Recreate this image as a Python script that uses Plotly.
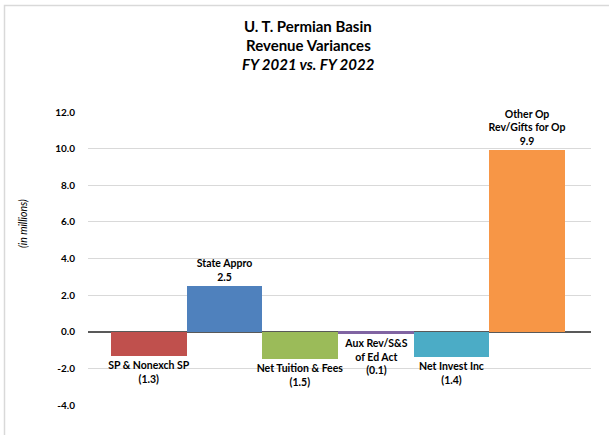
import plotly.graph_objects as go

# Data
categories = ["SP & Nonexch SP", "State Appro", "Net Tuition & Fees",
              "Aux Rev/S&S<br>of Ed Act", "Net Invest Inc", "Other Op<br>Rev/Gifts for Op"]
values = [-1.3, 2.5, -1.5, -0.1, -1.4, 9.9]
colors = ["#C0504D", "#4F81BD", "#9BBB59", "#8064A2", "#4BACC6", "#F79646"]
tick_vals = [-4, -2, 0, 2, 4, 6, 8, 10, 12]
tick_text = ["-4.0", "-2.0", "0.0", "2.0", "4.0", "6.0", "8.0", "10.0", "12.0"]
title_lines = ["<b>U. T. Permian Basin</b>", "<b>Revenue Variances</b>", "<b><i>FY 2021 vs. FY 2022</i></b>"]

FONT = "Lato"
W, H = 609, 435
L, R, T, B = 88, 18, 112, 30
pw, ph = W - L - R, H - T - B

def fmt(v):
    return f"({abs(v):.1f})" if v < 0 else f"{v:.1f}"

labels = [f"{c}<br>{fmt(v)}" for c, v in zip(categories, values)]

fig = go.Figure()
fig.add_trace(go.Bar(
    x=list(range(len(categories))), y=values,
    marker=dict(color=colors, line=dict(width=0)),
    text=labels, textposition="outside", constraintext="none",
    textfont=dict(family=FONT, size=10.5, color="#000000", weight="bold"),
    cliponaxis=False, hoverinfo="skip",
))

def px_x(px):
    return (px - L) / pw

def px_y(py):
    return (H - B - py) / ph

annotations = []
for line, py in zip(title_lines, [26, 45, 64]):
    annotations.append(dict(text=line, xref="paper", yref="paper", x=px_x(308), y=px_y(py),
                            xanchor="center", yanchor="middle", showarrow=False,
                            font=dict(family=FONT, size=15, color="#000000")))
annotations.append(dict(text="<i>(in millions)</i>", xref="paper", yref="paper",
                        x=px_x(23), y=px_y(224), textangle=-90, showarrow=False,
                        xanchor="center", yanchor="middle",
                        font=dict(family=FONT, size=10.5, color="#000000")))

fig.update_layout(
    width=W, height=H,
    margin=dict(l=L, r=R, t=T, b=B, pad=0),
    paper_bgcolor="white", plot_bgcolor="white",
    showlegend=False, bargap=0,
    annotations=annotations,
    shapes=[dict(type="rect", xref="paper", yref="paper",
                 x0=px_x(4.5), x1=px_x(620), y0=px_y(445), y1=px_y(5.5),
                 line=dict(color="#D9D9D9", width=1.5), fillcolor="rgba(0,0,0,0)", layer="below")],
    xaxis=dict(range=[-0.804, 5.841], showticklabels=False, showgrid=False,
               zeroline=False, showline=False, ticks=""),
    yaxis=dict(range=[-4, 12], tickvals=tick_vals, ticktext=tick_text,
               showgrid=True, gridcolor="#D9D9D9", gridwidth=1,
               zeroline=True, zerolinecolor="#595959", zerolinewidth=2,
               showline=False, ticks="", ticklabelstandoff=12,
               tickfont=dict(family=FONT, size=10, color="#000000", weight="bold")),
)

fig.write_html("out.html", config={"displayModeBar": False},
               post_script="document.body.style.margin='0';document.body.style.overflow='hidden';")
